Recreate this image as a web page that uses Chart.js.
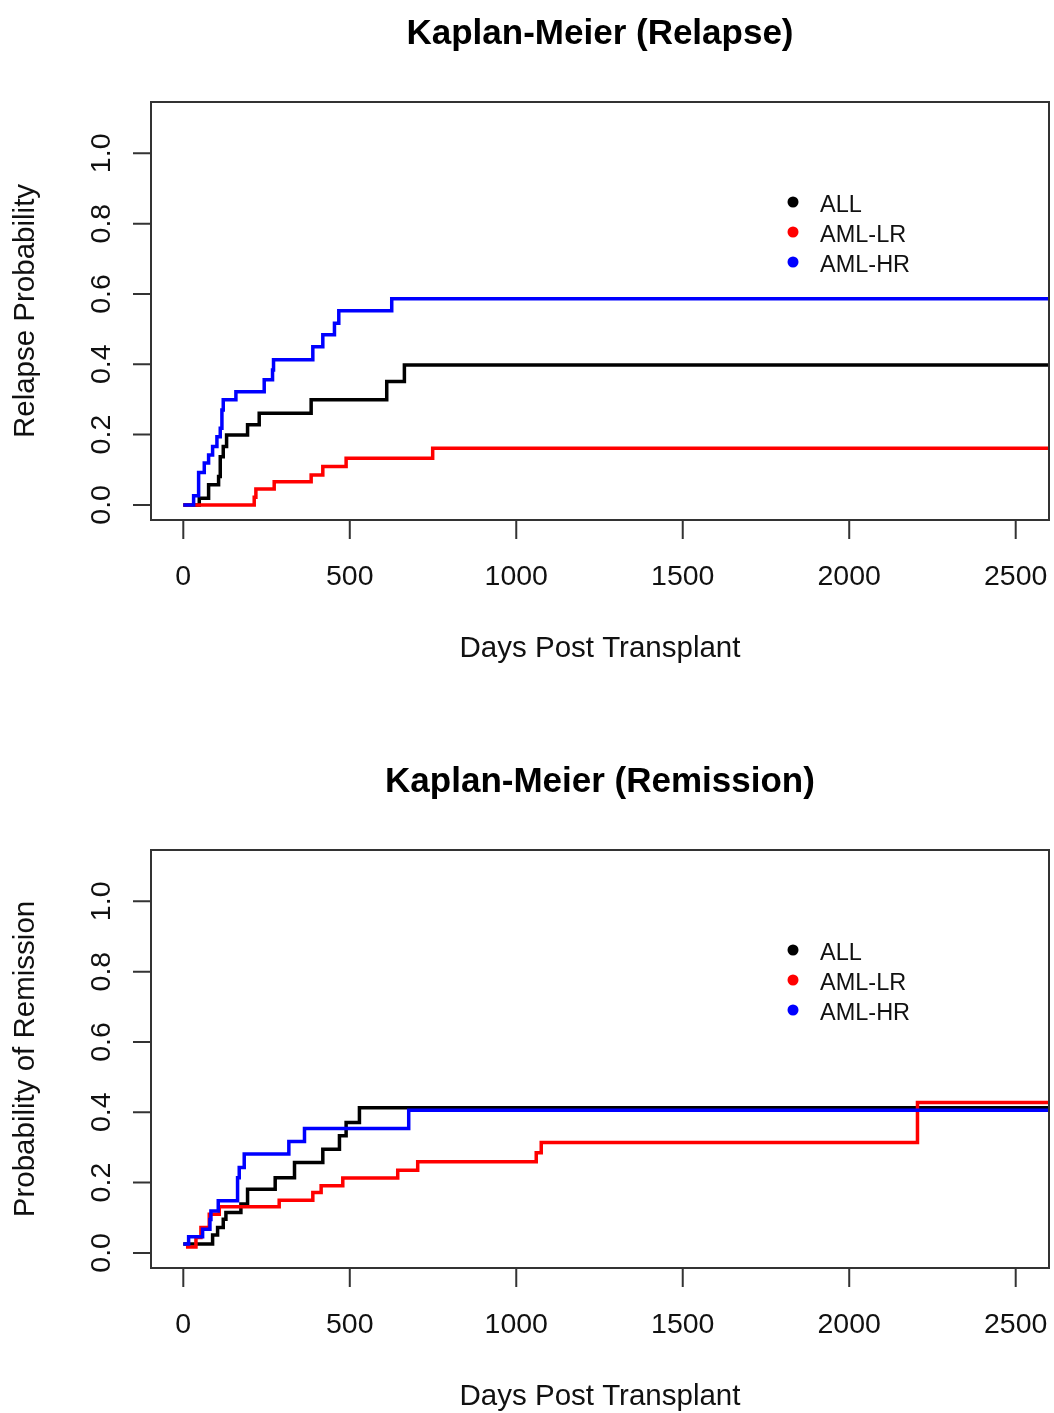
<!DOCTYPE html>
<html>
<head>
<meta charset="utf-8">
<title>Kaplan-Meier</title>
<script src="https://cdn.jsdelivr.net/npm/chart.js@4"></script>
<style>
  body { margin: 0; background: #fff; overflow: hidden; }
  canvas { display: block; position: absolute; left: 0; }
  #relapse { top: 0; }
  #remission { top: 748px; }
</style>
</head>
<body>
<canvas id="relapse" width="1054" height="748"></canvas>
<canvas id="remission" width="1054" height="665"></canvas>
<script>
'use strict'

const groups = ['ALL', 'AML-LR', 'AML-HR']
const groupColors = ['#000000', '#ff0000', '#0000ff']
const xTicks = [0, 500, 1000, 1500, 2000, 2500]
const yTicks = [0, 0.2, 0.4, 0.6, 0.8, 1.0]

// relapse: day of each step and the value after it
const relapseAllDays = [0, 48, 76, 106, 111, 120, 130, 193, 228, 384, 611, 664, 2600]
const relapseAllVals = [0, 0.019, 0.057, 0.081, 0.137, 0.166, 0.199, 0.228, 0.261, 0.299, 0.351, 0.398, 0.398]
const relapseLrDays = [0, 213, 218, 273, 384, 419, 489, 749, 2600]
const relapseLrVals = [0, 0.022, 0.045, 0.066, 0.085, 0.109, 0.133, 0.161, 0.161]
const relapseHrDays = [0, 31, 46, 63, 76, 88, 101, 111, 116, 120, 158, 243, 268, 271, 389, 419, 454, 467, 626, 2600]
const relapseHrVals = [0, 0.026, 0.092, 0.119, 0.142, 0.166, 0.194, 0.218, 0.27, 0.299, 0.322, 0.356, 0.384, 0.413, 0.45, 0.484, 0.517, 0.552, 0.586, 0.586]

// remission
const remissionAllDays = [0, 88, 103, 120, 128, 173, 193, 276, 334, 419, 469, 489, 529, 2600]
const remissionAllVals = [0.025, 0.051, 0.072, 0.096, 0.115, 0.139, 0.181, 0.214, 0.257, 0.295, 0.333, 0.371, 0.413, 0.413]
const remissionLrDays = [8, 38, 53, 78, 108, 288, 389, 414, 479, 644, 704, 1060, 1075, 2205, 2600]
const remissionLrVals = [0.017, 0.044, 0.072, 0.110, 0.131, 0.150, 0.172, 0.191, 0.213, 0.235, 0.259, 0.285, 0.314, 0.428, 0.428]
const remissionHrDays = [0, 16, 58, 80, 83, 105, 163, 168, 183, 317, 364, 677, 2600]
const remissionHrVals = [0.025, 0.046, 0.067, 0.095, 0.119, 0.148, 0.214, 0.243, 0.281, 0.317, 0.354, 0.406, 0.406]

const FONT = '"Liberation Sans", Arial, Helvetica, sans-serif'

const toPoints = (days, vals) => days.map((d, i) => ({ x: d, y: vals[i] }))

// R style box, axes, labels and legend
const rFrame = {
  id: 'rFrame',
  beforeDraw(chart) {
    const ctx = chart.ctx
    ctx.save()
    ctx.fillStyle = '#fff'
    ctx.fillRect(0, 0, chart.width, chart.height)
    ctx.restore()
  },
  afterDraw(chart, args, opts) {
    const { ctx, chartArea: a, scales: { x, y } } = chart
    ctx.save()

    ctx.strokeStyle = '#333'
    ctx.lineWidth = 2
    ctx.strokeRect(a.left, a.top, a.right - a.left, a.bottom - a.top)

    // x axis ticks
    ctx.beginPath()
    xTicks.forEach((v) => {
      const px = x.getPixelForValue(v)
      ctx.moveTo(px, a.bottom)
      ctx.lineTo(px, a.bottom + 19)
    })
    // y axis ticks
    yTicks.forEach((v) => {
      const py = y.getPixelForValue(v)
      ctx.moveTo(a.left, py)
      ctx.lineTo(a.left - 18, py)
    })
    ctx.stroke()

    ctx.fillStyle = '#111'
    ctx.font = `28.5px ${FONT}`
    ctx.textAlign = 'center'
    ctx.textBaseline = 'alphabetic'
    xTicks.forEach((v) => {
      ctx.fillText(String(v), x.getPixelForValue(v), a.bottom + 65)
    })
    yTicks.forEach((v) => {
      ctx.save()
      ctx.translate(a.left - 41, y.getPixelForValue(v))
      ctx.rotate(-Math.PI / 2)
      ctx.fillText(v.toFixed(1), 0, 0)
      ctx.restore()
    })

    const cx = (a.left + a.right) / 2
    const cy = (a.top + a.bottom) / 2
    ctx.font = `29.5px ${FONT}`
    ctx.fillText(opts.xTitle, cx, a.bottom + 137)
    ctx.save()
    ctx.translate(a.left - 117, cy)
    ctx.rotate(-Math.PI / 2)
    ctx.fillText(opts.yTitle, 0, 0)
    ctx.restore()

    ctx.fillStyle = '#000'
    ctx.font = `bold 35px ${FONT}`
    ctx.fillText(opts.title, cx, a.top - 58)

    // legend
    ctx.font = `23.5px ${FONT}`
    ctx.textAlign = 'left'
    chart.data.datasets.forEach((ds, i) => {
      const ly = a.top + 100 + i * 30
      ctx.fillStyle = ds.borderColor
      ctx.beginPath()
      ctx.arc(793, ly, 5.5, 0, Math.PI * 2)
      ctx.fill()
      ctx.fillStyle = '#111'
      ctx.fillText(ds.label, 820, ly + 10)
    })

    ctx.restore()
  }
}

const makeChart = (id, curves, title, yTitle, bottomPad) => {
  return new Chart(document.getElementById(id), {
    type: 'line',
    data: {
      datasets: curves.map((pts, i) => ({
        label: groups[i],
        data: pts,
        borderColor: groupColors[i],
        backgroundColor: groupColors[i],
        borderWidth: 3.5,
        pointRadius: 0,
        stepped: true,
        fill: false,
        order: curves.length - i
      }))
    },
    options: {
      responsive: false,
      animation: false,
      devicePixelRatio: 1,
      layout: { padding: { left: 151, right: 5, top: 102, bottom: bottomPad } },
      scales: {
        x: { type: 'linear', min: -97, max: 2600, display: false },
        y: { type: 'linear', min: -0.043, max: 1.146, display: false }
      },
      plugins: {
        legend: { display: false },
        tooltip: { enabled: false },
        rFrame: { title: title, xTitle: 'Days Post Transplant', yTitle: yTitle }
      }
    },
    plugins: [rFrame]
  })
}

makeChart('relapse', [
  toPoints(relapseAllDays, relapseAllVals),
  toPoints(relapseLrDays, relapseLrVals),
  toPoints(relapseHrDays, relapseHrVals)
], 'Kaplan-Meier (Relapse)', 'Relapse Probability', 228)

makeChart('remission', [
  toPoints(remissionAllDays, remissionAllVals),
  toPoints(remissionLrDays, remissionLrVals),
  toPoints(remissionHrDays, remissionHrVals)
], 'Kaplan-Meier (Remission)', 'Probability of Remission', 145)
</script>
</body>
</html>
